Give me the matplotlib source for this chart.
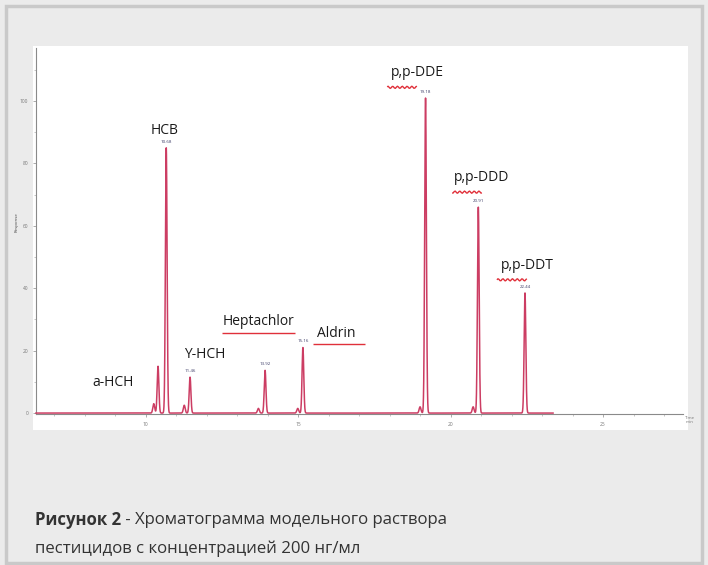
import numpy as np
import matplotlib
matplotlib.use("Agg")
import matplotlib.pyplot as plt
from matplotlib.patches import Rectangle

plt.rcParams['font.family'] = ['Open Sans', 'DejaVu Sans']

# compound peaks: retention time (min), relative height
compounds = ['a-HCH', 'HCB', 'Y-HCH', 'Heptachlor', 'Aldrin', 'p,p-DDE', 'p,p-DDD', 'p,p-DDT']
rt = [10.41, 10.68, 11.46, 13.92, 15.16, 19.18, 20.91, 22.44]
heights = [15.0, 85.0, 11.5, 13.7, 21.0, 101.0, 66.0, 38.5]
rt_labels = ['', '10.68', '11.46', '13.92', '15.16', '19.18', '20.91', '22.44']

# small neighbouring peaks
minor_rt = [10.27, 11.27, 13.70, 14.99, 19.00, 20.74]
minor_h = [3.0, 2.5, 1.5, 1.5, 2.0, 2.0]

yticks = [0, 20, 40, 60, 80, 100]
xticks = [10, 15, 20, 25]

W, H = 708, 565
fig = plt.figure(figsize=(W / 100, H / 100), dpi=100, facecolor='#ebebeb')

def fx(px):
    return px / W

def fy(py):
    return 1 - py / H

# page frame and white plot panel
fig.patches.append(Rectangle((fx(6), fy(563)), fx(696), 557 / H, transform=fig.transFigure,
                             facecolor='none', edgecolor='#c9c9c9', lw=2.5, zorder=0))
fig.patches.append(Rectangle((fx(33), fy(430)), fx(655), 384 / H, transform=fig.transFigure,
                             facecolor='white', edgecolor='none', zorder=0))

ax = fig.add_axes([fx(36), fy(414), fx(647), 366 / H])
ax.set_zorder(2)
ax.set_facecolor('none')
ax.set_xlim(6.41, 27.62)
ax.set_ylim(-0.3, 117)

# chromatogram trace built from the peak table
t = np.linspace(6.41, 23.36, 8000)
signal = np.zeros_like(t)
for r, h in zip(rt, heights):
    signal += h * np.exp(-0.5 * ((t - r) / 0.028) ** 2)
for r, h in zip(minor_rt, minor_h):
    signal += h * np.exp(-0.5 * ((t - r) / 0.03) ** 2)
ax.plot(t, signal, color='#cc3d63', lw=1.1, zorder=3, clip_on=False)

for r, h, lab in zip(rt, heights, rt_labels):
    if lab:
        ax.annotate(lab, (r, h), xytext=(0, 3), textcoords='offset points',
                    ha='center', va='bottom', fontsize=3.2, color='#3b3b66')

# compound names with their positions on the chart
name_pos = {
    'a-HCH': (8.93, 9.9),
    'HCB': (10.64, 90.7),
    'Y-HCH': (11.95, 18.8),
    'Heptachlor': (13.69, 29.4),
    'Aldrin': (16.25, 25.6),
    'p,p-DDE': (18.9, 109.0),
    'p,p-DDD': (21.03, 75.4),
    'p,p-DDT': (22.5, 47.3),
}
for name in compounds:
    x, y = name_pos[name]
    ax.text(x, y, name, ha='center', va='center', fontsize=10, color='#1a1a1a', zorder=4)

# red underlines
ul = dict(color='#e0303a', lw=1.0, zorder=4, solid_capstyle='butt')
ax.plot([12.5, 14.9], [25.8, 25.8], **ul)
ax.plot([15.5, 17.2], [22.0, 22.0], **ul)
for x0, y0 in [(17.92, 104.4), (20.05, 70.8), (21.52, 42.7)]:
    xs = np.linspace(x0, x0 + 0.98, 30)
    ax.plot(xs, y0 + 0.35 * np.sin(xs * 40), **ul)

for s in ['top', 'right']:
    ax.spines[s].set_visible(False)
for s in ['left', 'bottom']:
    ax.spines[s].set_color('#8a8a8a')
    ax.spines[s].set_linewidth(0.8)

ax.set_yticks(yticks)
ax.set_xticks(xticks)
ax.set_xticks(np.arange(7, 28, 1), minor=True)
ax.set_yticks(np.arange(0, 115, 10), minor=True)
ax.tick_params(which='major', length=2.5, width=0.5, color='#8a8a8a',
               labelsize=3.5, labelcolor='#777777', pad=3)
ax.tick_params(which='minor', length=1.2, width=0.4, color='#9a9a9a')

fig.text(fx(690), fy(420), 'Time\nmin', fontsize=3.2, color='#777777',
         ha='center', va='center', linespacing=1.0)
fig.text(fx(17), fy(222), 'Response', fontsize=3.2, color='#444444',
         rotation=90, ha='center', va='center')

# caption
cap_bold = fig.text(fx(35), fy(520), 'Рисунок 2', fontsize=12.1, fontweight='bold',
                    color='#333333', ha='left', va='center')
fig.canvas.draw()
bb = cap_bold.get_window_extent()
fig.text(bb.x1 / W, fy(520), ' - Хроматограмма модельного раствора', fontsize=12.1,
         color='#333333', ha='left', va='center')
fig.text(fx(35), fy(549), 'пестицидов с концентрацией 200 нг/мл', fontsize=12.1,
         color='#333333', ha='left', va='center')

fig.savefig('out.png', dpi=100, facecolor=fig.get_facecolor())
